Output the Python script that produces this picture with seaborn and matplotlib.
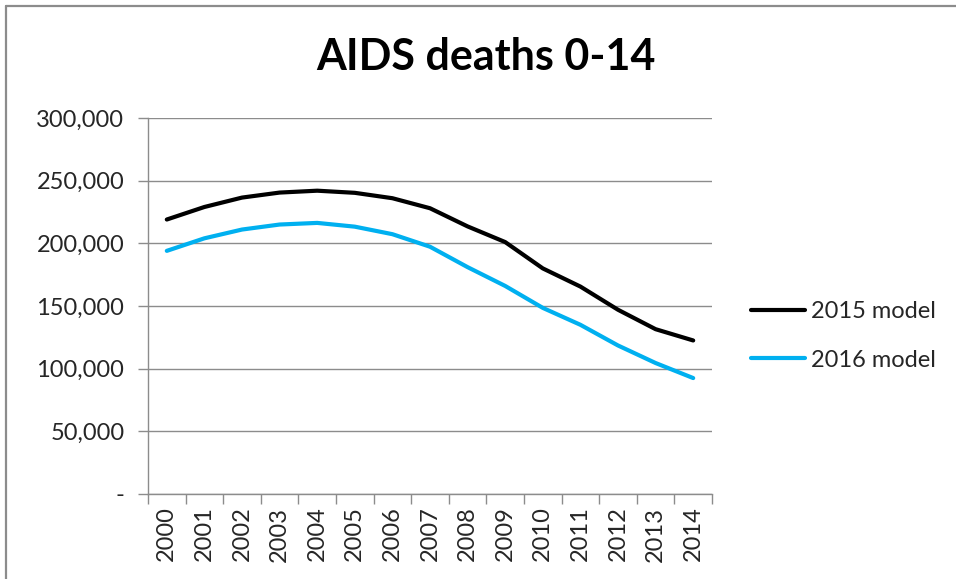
import matplotlib
matplotlib.use("Agg")
import matplotlib.pyplot as plt
from matplotlib.lines import Line2D
from matplotlib.ticker import FixedLocator, FuncFormatter
import seaborn as sns
import pandas as pd

# AIDS deaths among children aged 0-14, two model rounds
years = list(range(2000, 2015))
model_2015 = [219000, 229000, 236500, 240500, 242000, 240300, 236000, 228000,
              213500, 201000, 180000, 165500, 147000, 131500, 122500]
model_2016 = [194000, 204000, 211000, 215000, 216300, 213300, 207300, 197300,
              181000, 166000, 148500, 135000, 118500, 104500, 92500]
series_names = ["2015 model", "2016 model"]
series_colors = ["#000000", "#00B0F0"]
y_ticks = [0, 50000, 100000, 150000, 200000, 250000, 300000]

df = pd.DataFrame({
    "pos": list(range(len(years))) * 2,
    "deaths": model_2015 + model_2016,
    "model": [series_names[0]] * len(years) + [series_names[1]] * len(years),
})

sns.set_theme(style="white")
plt.rcParams["font.family"] = ["Lato", "DejaVu Sans"]

W, H = 956, 579
fig = plt.figure(figsize=(W / 100, H / 100), dpi=100)
ax = fig.add_axes([148 / W, (H - 494) / H, 564 / W, 376 / H])

sns.lineplot(data=df, x="pos", y="deaths", hue="model",
             palette=dict(zip(series_names, series_colors)),
             linewidth=3.0, legend=False, ax=ax,
             solid_capstyle="round", solid_joinstyle="round")

grid_c = "#8C8C8C"
text_c = "#262626"

ax.set_xlim(-0.5, len(years) - 0.5)
ax.set_ylim(y_ticks[0], y_ticks[-1])
ax.set_xlabel("")
ax.set_ylabel("")

ax.xaxis.set_major_locator(FixedLocator(range(len(years))))
ax.set_xticklabels([str(y) for y in years], rotation=90, fontsize=17, color=text_c)
ax.xaxis.set_minor_locator(FixedLocator([i - 0.5 for i in range(len(years) + 1)]))
ax.tick_params(axis="x", which="major", length=0, pad=9)
ax.tick_params(axis="x", which="minor", length=7, width=1, color=grid_c,
               direction="out", bottom=True)

ax.yaxis.set_major_locator(FixedLocator(y_ticks))
ax.yaxis.set_major_formatter(FuncFormatter(lambda v, _: "-" if v == 0 else f"{int(v):,}"))
ax.tick_params(axis="y", length=7, width=1, color=grid_c, labelsize=17,
               labelcolor=text_c, pad=10, left=True)

ax.grid(axis="y", color=grid_c, linewidth=1)
ax.grid(axis="x", visible=False)
for side in ["top", "right"]:
    ax.spines[side].set_visible(False)
for side in ["left", "bottom"]:
    ax.spines[side].set_color(grid_c)
    ax.spines[side].set_linewidth(1)

fig.text(486 / W, 1 - 57 / H, "AIDS deaths 0-14", ha="center", va="center",
         fontsize=31, fontweight="bold", color="#000000")

handles = [Line2D([0], [0], color=c, linewidth=3.0, solid_capstyle="round")
           for c in series_colors]
fig.legend(handles, series_names, loc="center left",
           bbox_to_anchor=(751 / W, 1 - 336 / H), frameon=False, borderpad=0,
           borderaxespad=0, fontsize=17, handlelength=2.3, handletextpad=0.25,
           labelspacing=1.15, labelcolor=text_c)

# chart area border (top and left edges)
fig.add_artist(Line2D([6 / W, 1], [1 - 6 / H, 1 - 6 / H], color="#8C8C8C", linewidth=1.6,
                      transform=fig.transFigure))
fig.add_artist(Line2D([6 / W, 6 / W], [0, 1 - 6 / H], color="#8C8C8C", linewidth=1.6,
                      transform=fig.transFigure))

fig.savefig("out.png", dpi=100, facecolor="white")
